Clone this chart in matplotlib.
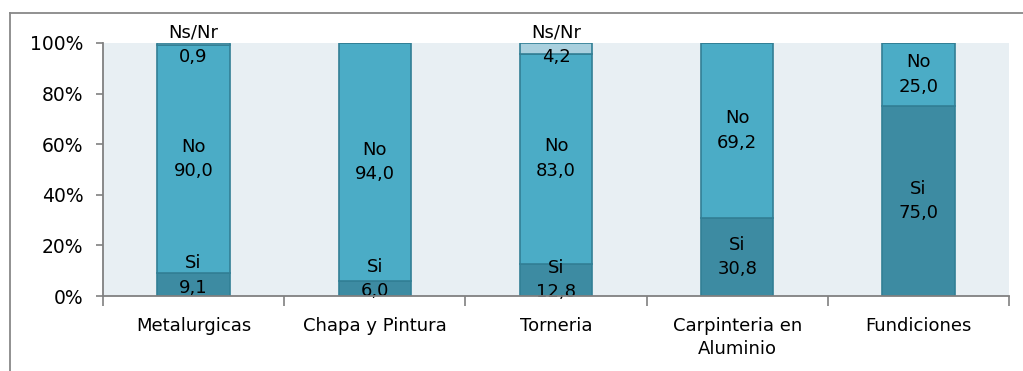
import matplotlib
matplotlib.use("Agg")
import matplotlib.pyplot as plt
from matplotlib.lines import Line2D
import numpy as np

categories = ["Metalurgicas", "Chapa y Pintura", "Torneria", "Carpinteria en\nAluminio", "Fundiciones"]
si = [9.1, 6.0, 12.8, 30.8, 75.0]
no = [90.0, 94.0, 83.0, 69.2, 25.0]
nsnr = [0.9, 0.0, 4.2, 0.0, 0.0]
series_names = ["Si", "No", "Ns/Nr"]

# labels that the original chart moved away from the segment centre (in %)
label_moves = {("Si", 0): 8.1, ("Si", 1): 6.8, ("Ns/Nr", 2): 99.2, ("Ns/Nr", 0): 99.2}

colors = ["#3D8BA2", "#4BACC6", "#A9D0DE"]
edge = "#327F95"

fig = plt.figure(figsize=(10.23, 3.71), dpi=100)
ax = fig.add_axes([103/1023, 1-296/371, (1009-103)/1023, (296-43)/371])
ax.set_facecolor("#E8EFF3")

x = np.arange(len(categories))
w = 0.40
bottom = np.zeros(len(categories))
for name, vals, c in zip(series_names, [si, no, nsnr], colors):
    vals = np.array(vals)
    ax.bar(x, vals, w, bottom=bottom, color=c, edgecolor=edge, linewidth=1.2, zorder=2)
    for i, v in enumerate(vals):
        if v > 0:
            lbl = f"{name}\n{v:.1f}".replace(".", ",")
            yc = label_moves.get((name, i), bottom[i] + v/2)
            ax.text(x[i], yc, lbl, ha="center", va="center",
                    fontsize=13, color="black", linespacing=1.45, zorder=3)
    bottom += vals

ax.set_xlim(-0.5, len(categories)-0.5)
ax.set_ylim(0, 100)
ax.set_yticks([0, 20, 40, 60, 80, 100])
ax.set_yticklabels([f"{t}%" for t in [0, 20, 40, 60, 80, 100]], fontsize=13.5)
ax.set_xticks(x)
ax.set_xticklabels(categories, fontsize=13, linespacing=1.4)
ax.set_xticks(np.arange(-0.5, len(categories), 1.0), minor=True)
ax.tick_params(axis="x", which="major", length=0, pad=15)
ax.tick_params(axis="x", which="minor", length=7, color="#808080", width=1.2, direction="out")
ax.tick_params(axis="y", length=5, color="#808080", width=1.2, direction="out", pad=9)
for s in ["top", "right"]:
    ax.spines[s].set_visible(False)
for s in ["left", "bottom"]:
    ax.spines[s].set_color("#808080")
    ax.spines[s].set_linewidth(1.3)
ax.spines["left"].set_zorder(4)
ax.spines["bottom"].set_zorder(4)

# figure border (top and left)
fig.add_artist(Line2D([10/1023, 1.0], [1-13/371, 1-13/371], transform=fig.transFigure, color="#888888", lw=1.3))
fig.add_artist(Line2D([10/1023, 10/1023], [0, 1-13/371], transform=fig.transFigure, color="#888888", lw=1.3))

fig.savefig("out.png", dpi=100)
